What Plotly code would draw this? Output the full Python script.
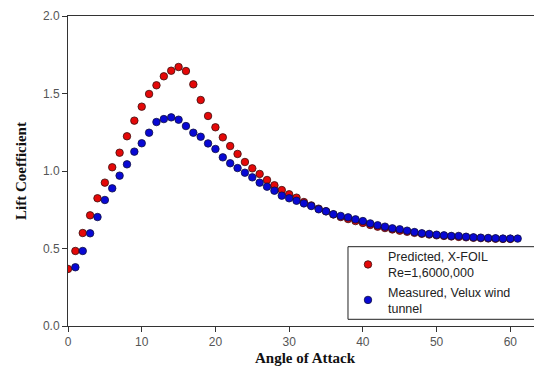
import plotly.graph_objects as go

pred_angle = list(range(0, 61))
pred_cl = [0.368, 0.484, 0.600, 0.714, 0.824, 0.925, 1.024, 1.118, 1.224, 1.325,
           1.415, 1.497, 1.553, 1.611, 1.647, 1.671, 1.645, 1.559, 1.458, 1.355,
           1.282, 1.217, 1.161, 1.110, 1.058, 1.017, 0.981, 0.942, 0.908, 0.877,
           0.850, 0.828, 0.800, 0.778, 0.757, 0.740, 0.720, 0.703, 0.690, 0.677,
           0.665, 0.652, 0.641, 0.632, 0.623, 0.615, 0.608, 0.601, 0.595, 0.590,
           0.585, 0.581, 0.578, 0.575, 0.572, 0.569, 0.567, 0.565, 0.563, 0.562,
           0.562]

meas_angle = list(range(1, 62))
meas_cl = [0.379, 0.484, 0.598, 0.703, 0.813, 0.888, 0.970, 1.043, 1.125, 1.179,
           1.247, 1.316, 1.335, 1.346, 1.331, 1.290, 1.247, 1.221, 1.178, 1.142,
           1.088, 1.050, 1.019, 0.989, 0.959, 0.925, 0.899, 0.873, 0.841, 0.824,
           0.808, 0.791, 0.774, 0.753, 0.740, 0.721, 0.710, 0.701, 0.688, 0.677,
           0.662, 0.650, 0.641, 0.630, 0.624, 0.615, 0.606, 0.598, 0.594, 0.589,
           0.585, 0.581, 0.581, 0.576, 0.572, 0.570, 0.568, 0.566, 0.564, 0.564,
           0.564]

x_ticks = [0, 10, 20, 30, 40, 50, 60]
y_ticks = [0.0, 0.5, 1.0, 1.5, 2.0]

fig = go.Figure()
fig.add_trace(go.Scatter(
    x=pred_angle, y=pred_cl, mode="markers",
    name="Predicted, X-FOIL<br>Re=1,6000,000",
    marker=dict(color="#e40808", size=7.5, line=dict(color="#3a1010", width=0.8)),
))
fig.add_trace(go.Scatter(
    x=meas_angle, y=meas_cl, mode="markers",
    name="Measured, Velux wind<br>tunnel",
    marker=dict(color="#0808d4", size=7.5, line=dict(color="#101040", width=0.8)),
))

axis_font = dict(family="Liberation Sans, Arial", size=12, color="#555555")
title_font = dict(family="Liberation Serif, Times New Roman", size=15, color="#111111")

fig.update_layout(
    width=534, height=359,
    margin=dict(l=60, r=0, t=8, b=41),
    paper_bgcolor="white", plot_bgcolor="white",
    showlegend=True,
    legend=dict(
        x=0.5907, y=0.272, xanchor="left", yanchor="top",
        bgcolor="rgba(0,0,0,0)", borderwidth=0,
        font=dict(family="Liberation Sans, Arial", size=12.5, color="#222222"),
        tracegroupgap=0,
    ),
    shapes=[dict(type="rect", xref="paper", yref="paper",
                 x0=0.5907, x1=1.02, y0=0.0216, y1=0.2558,
                 line=dict(color="#222222", width=1), fillcolor="rgba(0,0,0,0)",
                 layer="below")],
)
fig.update_xaxes(
    range=[0, 64.3], tickvals=x_ticks, ticks="outside", ticklen=5,
    tickcolor="#333333", showline=True, linecolor="#333333", linewidth=1,
    mirror=True, showgrid=False, zeroline=False, tickfont=axis_font,
    automargin=False,
    title=dict(text="<b>Angle of Attack</b>", font=title_font, standoff=4),
)
fig.update_yaxes(
    range=[0, 2.0], tickvals=y_ticks, tickformat=".1f", ticks="outside", ticklen=5,
    tickcolor="#333333", showline=True, linecolor="#333333", linewidth=1,
    showgrid=False, zeroline=False, tickfont=axis_font,
    automargin=False,
    title=dict(text="<b>Lift Coefficient</b>", font=title_font, standoff=12),
)

fig.write_html("out.html")
